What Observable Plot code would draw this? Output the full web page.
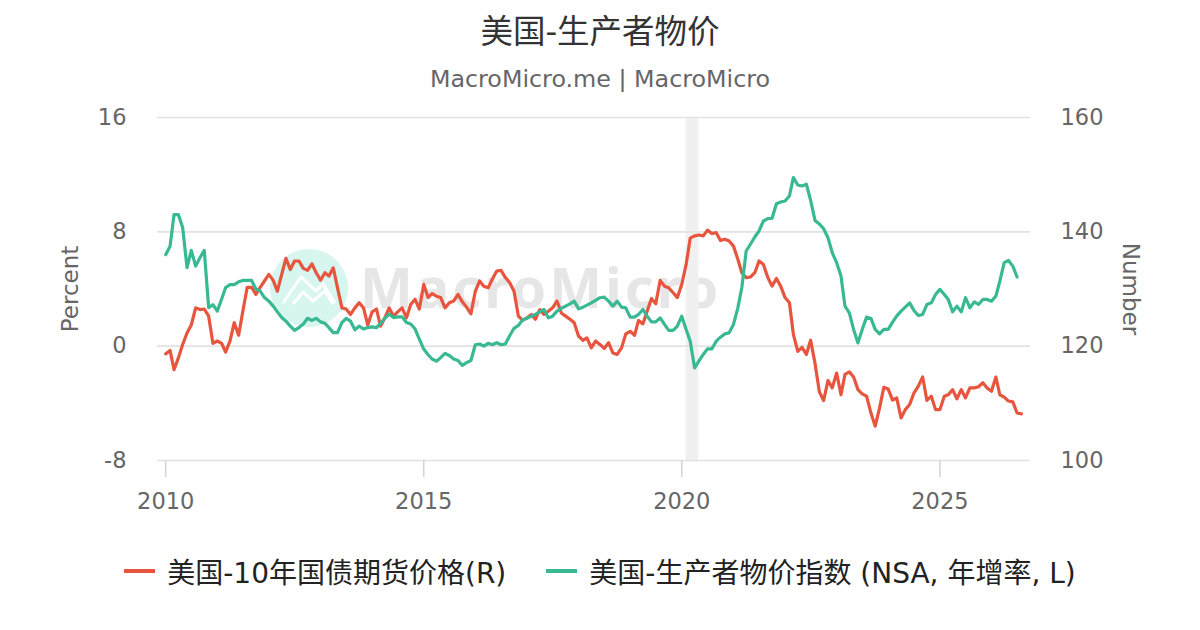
<!DOCTYPE html>
<html>
<head>
<meta charset="utf-8">
<script src="https://cdn.jsdelivr.net/npm/d3@7"></script>
<script src="https://cdn.jsdelivr.net/npm/@observablehq/plot@0.6"></script>
<style>
  html, body { margin: 0; padding: 0; background: #fff; }
  #page { position: relative; width: 1200px; height: 630px; overflow: hidden; font-family: "DejaVu Sans", "Noto Sans CJK SC", sans-serif; }
  #title { position: absolute; left: 0; width: 1200px; top: 12px; text-align: center; font-size: 32.5px; line-height: 40px; color: #333; }
  #subtitle { position: absolute; left: 0; width: 1200px; top: 64px; text-align: center; font-size: 23.8px; line-height: 30px; color: #666; }
  #wm { position: absolute; left: 0; top: 0; z-index: 0; }
  #chart { position: absolute; left: 0; top: 100px; z-index: 1; }
  #legend { position: absolute; left: 0; width: 1200px; top: 551px; height: 40px; display: flex; justify-content: center; align-items: center; font-size: 28px; color: #222; }
  .item { display: flex; align-items: center; margin: 0 20px; }
  .swatch { width: 31px; height: 4px; margin-right: 12px; }
</style>
</head>
<body>
<div id="page">
  <svg id="wm" width="1200" height="630">
    <circle cx="309" cy="288" r="39" fill="#d6f6ef"></circle>
    <polyline points="283,303 301,277 316,291 323,284 335,303" fill="none" stroke="#fff" stroke-width="3"></polyline>
    <polyline points="293,304 303,292 313,301 325,291 333,304" fill="none" stroke="#fff" stroke-width="3"></polyline>
    <text x="360" y="308" font-family="Noto Sans" font-weight="bold" font-size="56" letter-spacing="3" fill="#e6e6e6">MacroMicro</text>
  </svg>
  <div id="title">美国-生产者物价</div>
  <div id="subtitle">MacroMicro.me | MacroMicro</div>
  <div id="chart"></div>
  <div id="legend"></div>
</div>
<script>
// Monthly series starting January 2010
const startYear = 2010;
const startMonth = 0;

// 美国-生产者物价指数 (NSA, 年增率, L) — percent, left axis
const ppiYoY = [
  6.4, 7.0, 9.2, 9.2, 8.3, 5.5, 6.7, 5.6, 6.2, 6.7,
  2.7, 2.9, 2.45, 3.3, 4.1, 4.3, 4.3, 4.5, 4.6, 4.6,
  4.6, 4.0, 3.85, 3.4, 3.15, 2.8, 2.4, 2.0, 1.75, 1.4,
  1.1, 1.3, 1.55, 1.95, 1.8, 1.95, 1.7, 1.6, 1.3, 0.95,
  0.95, 1.65, 1.95, 1.75, 1.15, 1.4, 1.2, 1.3, 1.35, 1.3,
  1.6, 1.95, 2.25, 2.0, 2.05, 2.05, 1.65, 1.55, 1.2, 0.5,
  -0.2, -0.6, -0.9, -1.05, -0.8, -0.5, -0.65, -0.9, -1.0, -1.35,
  -1.15, -1.0, 0.1, 0.15, 0.0, 0.2, 0.1, 0.25, 0.1, 0.15,
  0.75, 1.25, 1.45, 1.85, 1.95, 2.1, 2.22, 2.4, 2.57, 1.98,
  2.1, 2.45, 2.64, 2.8, 2.96, 3.15, 2.61, 2.73, 2.87, 3.03,
  3.2, 3.39, 3.43, 3.15, 2.8, 3.15, 2.73, 2.68, 2.03, 2.03,
  2.22, 2.57, 2.1, 1.7, 1.7, 1.98, 1.52, 1.1, 1.1, 1.4,
  2.1, 1.17, 0.35, -1.52, -1.05, -0.58, -0.19, -0.19, 0.35, 0.63,
  0.86, 0.93, 1.52, 2.68, 4.09, 6.66, 7.13, 7.64, 8.06, 8.76,
  8.92, 8.95, 9.97, 10.09, 10.16, 10.51, 11.79, 11.28, 11.21, 11.33,
  10.2, 8.8, 8.55, 8.22, 7.59, 6.54, 5.84, 4.91, 2.8, 2.33,
  1.17, 0.23, 1.17, 2.03, 1.94, 1.17, 0.86, 1.17, 1.17, 1.68,
  2.1, 2.45, 2.73, 3.03, 2.5, 2.15, 2.22, 2.92, 3.03, 3.62,
  3.97, 3.62, 3.27, 2.4, 2.8, 2.4, 3.39, 2.68, 3.1, 2.92,
  3.27, 3.27, 3.15, 3.5, 4.55, 5.84, 6.0, 5.6, 4.84
];

// 美国-10年国债期货价格(R) — number, right axis
const tnoteFutures = [
  118.65, 119.25, 115.9, 117.95, 120.3, 122.3, 123.7, 126.7, 126.4, 126.5,
  125.25, 120.5, 120.9, 120.5, 118.95, 120.9, 124.1, 121.9, 126.1, 130.3,
  130.3, 129.05, 130.3, 131.4, 132.55, 131.5, 129.6, 132.55, 135.35, 133.4,
  134.9, 134.9, 133.6, 133.25, 134.4, 132.85, 131.55, 132.85, 132.25, 133.7,
  130.2, 126.7, 126.5, 125.55, 126.7, 127.6, 126.7, 123.7, 126.0, 126.5,
  123.5, 124.95, 126.7, 125.25, 126.0, 126.7, 124.95, 127.3, 128.2, 126.5,
  130.8, 128.5, 129.2, 128.75, 128.5, 126.7, 127.6, 127.9, 129.05, 127.75,
  126.8, 125.65, 129.6, 131.4, 130.5, 130.2, 131.75, 133.15, 133.25, 132.0,
  131.1, 129.6, 125.25, 124.5, 124.95, 125.55, 124.7, 126.4, 125.55, 126.1,
  126.7, 127.9, 125.8, 125.25, 124.7, 124.1, 121.75, 121.0, 121.45, 119.7,
  120.9, 120.3, 119.6, 120.6, 118.8, 118.55, 119.7, 122.15, 122.6, 121.9,
  124.5, 123.9, 126.1, 128.35, 127.4, 131.5, 130.5, 130.2, 129.35, 128.5,
  130.8, 134.3, 138.9, 139.3, 139.45, 139.3, 140.3, 139.7, 139.85, 138.5,
  138.7, 138.4, 137.5, 135.2, 132.85, 132.0, 132.1, 132.85, 134.9, 134.3,
  132.0, 130.5, 131.85, 130.5, 128.5, 127.6, 122.05, 119.1, 119.8, 118.55,
  121.05, 117.0, 112.0, 110.5, 114.0, 112.7, 115.3, 111.5, 115.05, 115.5,
  114.6, 112.4, 111.65, 111.25, 108.3, 106.0, 109.2, 112.8, 112.5, 110.55,
  110.95, 107.45, 108.9, 109.8, 111.8, 113.0, 114.6, 110.5, 111.25, 108.9,
  108.9, 111.25, 111.5, 112.4, 110.8, 112.4, 110.95, 112.7, 112.7, 112.9,
  113.6, 112.7, 112.1, 114.6, 111.5, 111.1, 110.4, 110.25, 108.3, 108.15
];

// Axes
const leftTicks = [-8, 0, 8, 16];        // Percent
const rightTicks = [100, 120, 140, 160]; // Number
const xTickYears = [2010, 2015, 2020, 2025];
const xDomain = ["2009-11-04", "2026-10-04"];
const recession = [{start: "2020-02-01", end: "2020-05-01"}];

const names = {
  red: "美国-10年国债期货价格(R)",
  green: "美国-生产者物价指数 (NSA, 年增率, L)"
};
const colors = { red: "#e8553e", green: "#38b994" };

// right axis maps linearly onto left axis
const rMin = rightTicks[0], rMax = rightTicks[rightTicks.length - 1];
const lMin = leftTicks[0], lMax = leftTicks[leftTicks.length - 1];
const toLeft = r => lMin + (r - rMin) * (lMax - lMin) / (rMax - rMin);
const toRight = l => rMin + (l - lMin) * (rMax - rMin) / (lMax - lMin);

const monthDate = i => new Date(Date.UTC(startYear, startMonth + i, 1));
const green = ppiYoY.map((v, i) => ({date: monthDate(i), v}));
const red = tnoteFutures.map((v, i) => ({date: monthDate(i), v: toLeft(v)}));
const rec = recession.map(d => ({x1: new Date(d.start), x2: new Date(d.end)}));

const chart = Plot.plot({
  width: 1200,
  height: 420,
  marginLeft: 157,
  marginRight: 170,
  marginTop: 17,
  marginBottom: 60,
  style: { fontFamily: '"DejaVu Sans", "Noto Sans CJK SC", sans-serif', fontSize: "22.5px", color: "#666", background: "transparent", overflow: "visible" },
  x: { type: "utc", domain: xDomain.map(d => new Date(d)) },
  y: { domain: [lMin, lMax] },
  marks: [
    Plot.rect(rec, { x1: "x1", x2: "x2", fill: "#f0f0f0" }),
    Plot.gridY(leftTicks, { stroke: "#e2e2e2", strokeOpacity: 1, strokeWidth: 1.6 }),
    Plot.axisY(leftTicks, { anchor: "left", tickSize: 0, tickPadding: 31, label: null, fill: "#666", tickFormat: d => String(d) }),
    Plot.axisY(leftTicks, { anchor: "right", tickSize: 0, tickPadding: 30, label: null, fill: "#666", tickFormat: d => String(toRight(d)) }),
    Plot.axisX(xTickYears.map(y => new Date(Date.UTC(y, 0, 1))), { tickSize: 17, tickPadding: 16, tickFormat: d3.utcFormat("%Y"), label: null, stroke: "#d5d5d5", strokeWidth: 1.6, fill: "#666" }),
    Plot.line(red, { x: "date", y: "v", stroke: colors.red, strokeWidth: 3.2, strokeLinejoin: "round" }),
    Plot.line(green, { x: "date", y: "v", stroke: colors.green, strokeWidth: 3.2, strokeLinejoin: "round" }),
    Plot.text(["Percent"], { frameAnchor: "left", textAnchor: "middle", dx: -87, rotate: -90, fill: "#666", fontSize: 23 }),
    Plot.text(["Number"], { frameAnchor: "right", textAnchor: "middle", dx: 100, rotate: 90, fill: "#666", fontSize: 23 })
  ]
});
document.getElementById("chart").appendChild(chart);

const legend = document.getElementById("legend");
[["red", names.red], ["green", names.green]].forEach(([k, label]) => {
  const item = document.createElement("div");
  item.className = "item";
  const sw = document.createElement("span");
  sw.className = "swatch";
  sw.style.background = colors[k];
  const t = document.createElement("span");
  t.textContent = label;
  item.appendChild(sw);
  item.appendChild(t);
  legend.appendChild(item);
});
</script>
</body>
</html>
